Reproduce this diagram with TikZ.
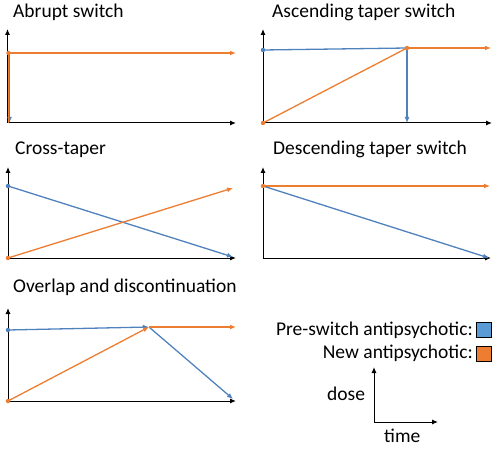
\documentclass[tikz,border=0pt]{standalone}
\usepackage{fontspec}
\setmainfont{Carlito}
\usetikzlibrary{arrows.meta}
\definecolor{preblue}{HTML}{4F81BD}
\definecolor{newor}{HTML}{ED7D31}
\definecolor{boxblue}{HTML}{5B9BD5}
\begin{document}
\begin{tikzpicture}[x=1pt,y=-1pt,
  axis/.style={black,line width=1pt,-{Latex[length=6pt,width=5pt]}},
  pre/.style={preblue,line width=1.3pt},
  newl/.style={newor,line width=1.3pt},
  arr/.style={-{Latex[length=6pt,width=5pt]}},
  dotp/.style={circle,fill=preblue,inner sep=0pt,minimum size=4.5pt},
  doto/.style={circle,fill=newor,inner sep=0pt,minimum size=4.5pt},
  ttl/.style={anchor=base west,inner sep=0pt,font=\fontsize{19.5}{22}\selectfont},
  lbl/.style={inner sep=0pt,font=\fontsize{19.5}{22}\selectfont},
  lbox/.style={draw=black,line width=1pt,minimum width=15pt,minimum height=15pt,inner sep=0pt}]
\useasboundingbox (0,0) rectangle (500,449);

% ---------- Panel 1: Abrupt switch
\node[ttl] (t1) at (13,17.5) {Abrupt switch};
\coordinate (o1) at (7.5,123);
\coordinate (y1) at (7.5,29);
\coordinate (x1) at (236,123);
\draw[axis] (o1) -- (y1);
\draw[axis] (o1) -- (x1);
\coordinate (a1) at (8.5,53);
\coordinate (b1) at (8.5,123);
\coordinate (c1) at (236,53);
\draw[pre,arr] (9.5,53) coordinate (pa1) -- (9.5,123) coordinate (pb1);
\draw[newl] (b1) -- (a1);
\draw[newl,arr] (a1) -- (c1);
\node[doto] (d1) at (a1) {};

% ---------- Panel 2: Ascending taper switch
\node[ttl] (t2) at (272,17.5) {Ascending taper switch};
\coordinate (o2) at (263,123);
\coordinate (y2) at (263,29);
\coordinate (x2) at (492,123);
\draw[axis] (o2) -- (y2);
\draw[axis] (o2) -- (x2);
\coordinate (p2a) at (263,50);
\coordinate (k2) at (407,48);
\coordinate (p2b) at (407,123);
\coordinate (n2c) at (491,48);
\draw[pre] (p2a) -- (k2);
\draw[pre,arr] (k2) -- (p2b);
\draw[newl] (o2) -- (k2);
\draw[newl,arr] (k2) -- (n2c);
\node[dotp] (d2a) at (p2a) {};
\node[doto] (d2b) at (o2) {};
\node[doto] (d2c) at (k2) {};

% ---------- Panel 3: Cross-taper
\node[ttl] (t3) at (15,155) {Cross-taper};
\coordinate (o3) at (8,258);
\coordinate (y3) at (8,167);
\coordinate (x3) at (236,258);
\draw[axis] (o3) -- (y3);
\draw[axis] (o3) -- (x3);
\coordinate (p3a) at (8,186);
\coordinate (p3b) at (233,257);
\coordinate (n3b) at (233,188);
\draw[pre,arr] (p3a) -- (p3b);
\draw[newl,arr] (o3) -- (n3b);
\node[dotp] (d3a) at (p3a) {};
\node[doto] (d3b) at (o3) {};

% ---------- Panel 4: Descending taper switch
\node[ttl] (t4) at (273,155) {Descending taper switch};
\coordinate (o4) at (263,258);
\coordinate (y4) at (263,167);
\coordinate (x4) at (491,258);
\draw[axis] (o4) -- (y4);
\draw[axis] (o4) -- (x4);
\coordinate (s4) at (263,186);
\coordinate (n4b) at (490,186);
\coordinate (p4b) at (489,258);
\draw[newl,arr] (s4) -- (n4b);
\draw[pre,arr] (s4) -- (p4b);
\node[doto] (d4a) at (s4) {};

% ---------- Panel 5: Overlap and discontinuation
\node[ttl] (t5) at (13,292) {Overlap and discontinuation};
\coordinate (o5) at (8,401);
\coordinate (y5) at (8,308);
\coordinate (x5) at (236,401);
\draw[axis] (o5) -- (y5);
\draw[axis] (o5) -- (x5);
\coordinate (p5a) at (8,330);
\coordinate (k5) at (149,327);
\coordinate (p5b) at (233,399);
\coordinate (n5c) at (236,327);
\draw[pre,arr] (p5a) -- (k5);
\draw[pre,arr] (k5) -- (p5b);
\draw[newl,arr] (o5) -- (k5);
\draw[newl,arr] (k5) -- (n5c);
\node[dotp] (d5a) at (p5a) {};
\node[doto] (d5b) at (o5) {};

% ---------- Legend
\node[lbl,anchor=base east] (lp) at (473,335) {Pre-switch antipsychotic:};
\node[lbl,anchor=base east] (ln) at (473,358) {New antipsychotic:};
\node[lbox,fill=boxblue] (bp) at (484,329.5) {};
\node[lbox,fill=newor] (bn) at (484,353.5) {};

\coordinate (oL) at (374,422);
\coordinate (yL) at (374,367);
\coordinate (xL) at (438,422);
\draw[axis] (oL) -- (yL);
\draw[axis] (oL) -- (xL);
\node[lbl,anchor=base west] (dose) at (327,400) {dose};
\node[lbl,anchor=base west] (time) at (384,442) {time};
\end{tikzpicture}
\end{document}
